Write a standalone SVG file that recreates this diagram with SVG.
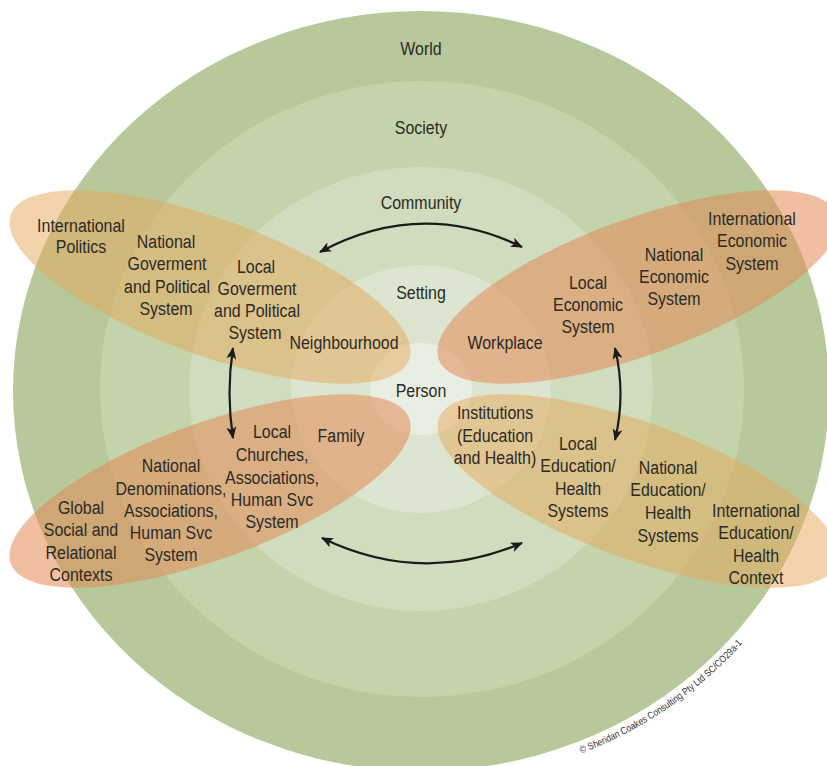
<svg xmlns="http://www.w3.org/2000/svg" width="827" height="766" viewBox="0 0 827 766">
<defs>
<style>
text{font-family:"Liberation Sans",Arial,sans-serif;font-size:19px;fill:#2b2a26;text-anchor:middle}
.ring{stroke:none}
.yel{fill:#e8a85a;fill-opacity:0.5}
.org{fill:#e38a55;fill-opacity:0.55}
.conn{fill:none;stroke:#1a1a1a;stroke-width:2.2;marker-start:url(#ah);marker-end:url(#ah)}
text.copy{font-size:10px;fill:#333;text-anchor:start}
</style>
<marker id="ah" viewBox="0 0 12 10" refX="11" refY="5" markerWidth="12" markerHeight="10" markerUnits="userSpaceOnUse" orient="auto-start-reverse">
<path d="M0,0 L12,5 L0,10 L3,5 Z" fill="#1a1a1a"/>
</marker>
<path id="copyArc" d="M572,757 A420,392 0 0 0 790,578" fill="none"/>
</defs>
<rect width="827" height="766" fill="#ffffff"/>
<g id="rings">
<ellipse id="world" class="ring" cx="421" cy="391" rx="408" ry="380" fill="#b7c99b"/>
<ellipse id="society" class="ring" cx="422" cy="389" rx="322" ry="308" fill="#c3d3aa"/>
<ellipse id="community" class="ring" cx="421" cy="389" rx="232" ry="222" fill="#cfdcbd"/>
<ellipse id="setting" class="ring" cx="421" cy="389" rx="130" ry="124" fill="#dbe5cf"/>
<ellipse id="person" class="ring" cx="421" cy="389" rx="51" ry="46" fill="#e8eee2"/>
</g>
<g id="ring-labels">
<text transform="translate(421 55) scale(0.84 1)">World</text>
<text transform="translate(421 134) scale(0.84 1)">Society</text>
<text transform="translate(421 209) scale(0.84 1)">Community</text>
<text transform="translate(421 299) scale(0.84 1)">Setting</text>
<text transform="translate(421 397) scale(0.84 1)">Person</text>
</g>
<g id="political">
<ellipse class="yel" cx="210" cy="287" rx="212" ry="68" transform="rotate(20 210 287)"/>
<text transform="translate(81 232) scale(0.84 1)">International</text>
<text transform="translate(81 253) scale(0.84 1)">Politics</text>
<text transform="translate(166 248) scale(0.84 1)">National</text>
<text transform="translate(167 270) scale(0.84 1)">Goverment</text>
<text transform="translate(167 293) scale(0.84 1)">and Political</text>
<text transform="translate(166 315) scale(0.84 1)">System</text>
<text transform="translate(256 273) scale(0.84 1)">Local</text>
<text transform="translate(257 295) scale(0.84 1)">Goverment</text>
<text transform="translate(257 317) scale(0.84 1)">and Political</text>
<text transform="translate(255 339) scale(0.84 1)">System</text>
<text transform="translate(344 349) scale(0.84 1)">Neighbourhood</text>
</g>
<g id="economic">
<ellipse class="org" cx="638" cy="287" rx="212" ry="68" transform="rotate(-20 638 287)"/>
<text transform="translate(752 225) scale(0.84 1)">International</text>
<text transform="translate(752 247) scale(0.84 1)">Economic</text>
<text transform="translate(752 270) scale(0.84 1)">System</text>
<text transform="translate(674 261) scale(0.84 1)">National</text>
<text transform="translate(674 283) scale(0.84 1)">Economic</text>
<text transform="translate(674 305) scale(0.84 1)">System</text>
<text transform="translate(588 289) scale(0.84 1)">Local</text>
<text transform="translate(588 311) scale(0.84 1)">Economic</text>
<text transform="translate(588 333) scale(0.84 1)">System</text>
<text transform="translate(505 349) scale(0.84 1)">Workplace</text>
</g>
<g id="social">
<ellipse class="org" cx="210" cy="491" rx="212" ry="68" transform="rotate(-20 210 491)"/>
<text transform="translate(272 438) scale(0.84 1)">Local</text>
<text transform="translate(272 461) scale(0.84 1)">Churches,</text>
<text transform="translate(272 484) scale(0.84 1)">Associations,</text>
<text transform="translate(272 506) scale(0.84 1)">Human Svc</text>
<text transform="translate(272 528) scale(0.84 1)">System</text>
<text transform="translate(341 442) scale(0.84 1)">Family</text>
<text transform="translate(171 472) scale(0.84 1)">National</text>
<text transform="translate(171 495) scale(0.84 1)">Denominations,</text>
<text transform="translate(171 517) scale(0.84 1)">Associations,</text>
<text transform="translate(171 539) scale(0.84 1)">Human Svc</text>
<text transform="translate(171 561) scale(0.84 1)">System</text>
<text transform="translate(81 514) scale(0.84 1)">Global</text>
<text transform="translate(81 536) scale(0.84 1)">Social and</text>
<text transform="translate(81 559) scale(0.84 1)">Relational</text>
<text transform="translate(81 581) scale(0.84 1)">Contexts</text>
</g>
<g id="education">
<ellipse class="yel" cx="638" cy="491" rx="212" ry="68" transform="rotate(20 638 491)"/>
<text transform="translate(495 419) scale(0.84 1)">Institutions</text>
<text transform="translate(495 442) scale(0.84 1)">(Education</text>
<text transform="translate(495 464) scale(0.84 1)">and Health)</text>
<text transform="translate(578 450) scale(0.84 1)">Local</text>
<text transform="translate(578 472) scale(0.84 1)">Education/</text>
<text transform="translate(578 495) scale(0.84 1)">Health</text>
<text transform="translate(578 517) scale(0.84 1)">Systems</text>
<text transform="translate(668 474) scale(0.84 1)">National</text>
<text transform="translate(668 496) scale(0.84 1)">Education/</text>
<text transform="translate(668 519) scale(0.84 1)">Health</text>
<text transform="translate(668 542) scale(0.84 1)">Systems</text>
<text transform="translate(756 517) scale(0.84 1)">International</text>
<text transform="translate(756 539) scale(0.84 1)">Education/</text>
<text transform="translate(756 562) scale(0.84 1)">Health</text>
<text transform="translate(756 584) scale(0.84 1)">Context</text>
</g>
<g id="connectors">
<path class="conn" d="M320,252 Q421,198 522,247"/>
<path class="conn" d="M322,538 Q421,586 522,543"/>
<path class="conn" d="M233,348 Q226,393 233,438"/>
<path class="conn" d="M615,348 Q626,394 615,440"/>
</g>
<text class="copy"><textPath href="#copyArc" startOffset="10" textLength="197" lengthAdjust="spacingAndGlyphs">© Sheridan Coakes Consulting Pty Ltd SC/CO29a-1</textPath></text>
</svg>
